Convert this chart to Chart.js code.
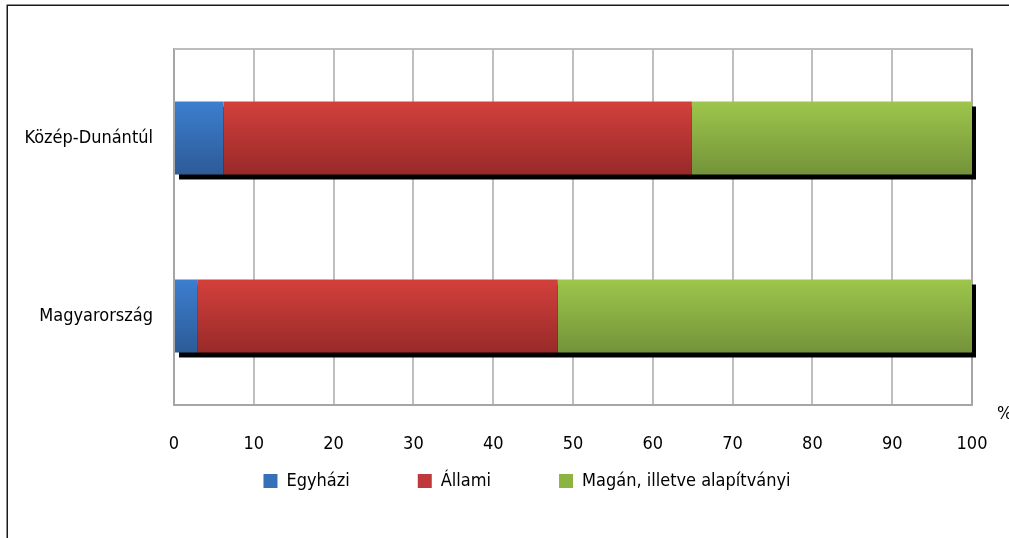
<!DOCTYPE html>
<html>
<head>
<meta charset="utf-8">
<script src="https://cdn.jsdelivr.net/npm/chart.js@4.4.1/dist/chart.umd.min.js"></script>
<style>
  html, body { margin: 0; padding: 0; background: #fff; }
  #wrap { width: 1009px; height: 538px; position: relative; }
</style>
</head>
<body>
<div id="wrap"><canvas id="c" width="1009" height="538"></canvas></div>
<script>
const categories = ['Közép-Dunántúl', 'Magyarország'];
const seriesNames = ['Egyházi', 'Állami', 'Magán, illetve alapítványi'];
const egyhazi = [6.2, 2.9];
const allami = [58.7, 45.2];
const magan = [35.1, 51.9];
const xTicks = [0, 10, 20, 30, 40, 50, 60, 70, 80, 90, 100];
const unitLabel = '%';

const FONT = "'DejaVu Sans Condensed', 'Liberation Sans Narrow', sans-serif";
const FS = 18;
const BAR_PCT = 0.41;
const LEGEND_GAP = 68;
const LEGEND_CENTER_X = 527;
const LEGEND_TEXT_Y = 481;

const palette = [
  { top: '#3D7ED0', bottom: '#2C5B97', flat: '#3670B8' },
  { top: '#D3403C', bottom: '#982A29', flat: '#C0393A' },
  { top: '#9DC64B', bottom: '#74933A', flat: '#8DB343' }
];

function gradientFor(idx) {
  return function (ctx) {
    const chart = ctx.chart;
    const ys = chart.scales && chart.scales.y;
    if (!chart.chartArea || !ys || ctx.dataIndex === undefined) return palette[idx].flat;
    const yc = ys.getPixelForValue(ctx.dataIndex);
    const half = (chart.chartArea.bottom - chart.chartArea.top) / categories.length * BAR_PCT / 2;
    const g = chart.ctx.createLinearGradient(0, yc - half, 0, yc + half);
    g.addColorStop(0, palette[idx].top);
    g.addColorStop(1, palette[idx].bottom);
    return g;
  };
}

// plot frame (top and right edges) drawn under the bars, then the black drop
// shadow of each whole stacked bar, built from the bar elements
const shadowPlugin = {
  id: 'barShadow',
  beforeDatasetsDraw(chart) {
    const c = chart.ctx;
    const a = chart.chartArea;
    c.save();
    c.lineWidth = 2;
    c.strokeStyle = '#BDBDBD';
    c.beginPath();
    c.moveTo(a.left, a.top);
    c.lineTo(a.right + 1, a.top);
    c.stroke();
    c.strokeStyle = '#A6A6A6';
    c.beginPath();
    c.moveTo(a.right, a.top);
    c.lineTo(a.right, a.bottom);
    c.stroke();

    const metas = chart.getSortedVisibleDatasetMetas();
    c.fillStyle = '#000000';
    categories.forEach((_, i) => {
      let l = Infinity, r = -Infinity, t = Infinity, b = -Infinity;
      metas.forEach(m => {
        const el = m.data[i];
        if (!el) return;
        l = Math.min(l, el.x, el.base);
        r = Math.max(r, el.x, el.base);
        t = Math.min(t, el.y - el.height / 2);
        b = Math.max(b, el.y + el.height / 2);
      });
      if (isFinite(l)) c.fillRect(l + 4, t + 5, r - l, b - t);
    });
    c.restore();
  }
};

const framePlugin = {
  id: 'frame',
  beforeDraw(chart) {
    const c = chart.ctx;
    c.save();
    c.fillStyle = '#ffffff';
    c.fillRect(0, 0, chart.width, chart.height);
    c.strokeStyle = '#1a1a1a';
    c.lineWidth = 1.5;
    c.strokeRect(7.25, 5.25, 1200, 1200);
    c.restore();
  },
  afterDraw(chart) {
    const c = chart.ctx;
    const a = chart.chartArea;
    c.save();
    c.fillStyle = '#000';
    c.font = FS + 'px ' + FONT;
    c.textBaseline = 'middle';
    c.textAlign = 'left';
    c.fillText(unitLabel, a.right + 25, a.bottom + 9);
    c.restore();
  }
};

// move the legend row to its place below the tick labels
const legendPlace = {
  id: 'legendPlace',
  afterLayout(chart) {
    const lg = chart.legend;
    if (!lg) return;
    const dx = LEGEND_CENTER_X - (lg.left + lg.right) / 2;
    lg.left += dx; lg.right += dx;
    lg.top = LEGEND_TEXT_Y - LEGEND_GAP - FS / 2;
    lg.bottom = chart.height;
    lg.height = lg.bottom - lg.top;
  }
};

const datasets = [egyhazi, allami, magan].map((vals, i) => ({
  label: seriesNames[i],
  data: vals,
  backgroundColor: gradientFor(i),
  borderWidth: 0,
  clip: false,
  categoryPercentage: 1,
  barPercentage: BAR_PCT
}));

new Chart(document.getElementById('c'), {
  type: 'bar',
  data: { labels: categories, datasets },
  plugins: [framePlugin, shadowPlugin, legendPlace],
  options: {
    indexAxis: 'y',
    responsive: false,
    animation: false,
    layout: { padding: { top: 49, right: 37, left: 0, bottom: 0 } },
    scales: {
      x: {
        stacked: true,
        min: 0,
        max: 100,
        afterBuildTicks(scale) { scale.ticks = xTicks.map(v => ({ value: v })); },
        afterFit(scale) { scale.height = 52; scale.paddingLeft = 0; scale.paddingRight = 0; },
        grid: { color: '#BFBFBF', lineWidth: 2, drawTicks: false },
        border: { color: '#A6A6A6', width: 2 },
        ticks: { color: '#000', font: { family: FONT, size: FS }, padding: 29, maxRotation: 0 }
      },
      y: {
        stacked: true,
        afterFit(scale) { scale.width = 174; },
        grid: { display: false, drawTicks: false },
        border: { color: '#A6A6A6', width: 2 },
        ticks: { color: '#000', font: { family: FONT, size: FS }, padding: 21 }
      }
    },
    plugins: {
      legend: {
        position: 'bottom',
        maxHeight: 81,
        labels: {
          color: '#000',
          font: { family: FONT, size: FS },
          boxWidth: 14,
          boxHeight: 14,
          padding: LEGEND_GAP,
          generateLabels(chart) {
            return chart.data.datasets.map((d, i) => ({
              text: d.label,
              fillStyle: palette[i].flat,
              strokeStyle: palette[i].flat,
              lineWidth: 0,
              hidden: false,
              datasetIndex: i
            }));
          }
        }
      },
      tooltip: { enabled: false }
    }
  }
});
</script>
</body>
</html>
